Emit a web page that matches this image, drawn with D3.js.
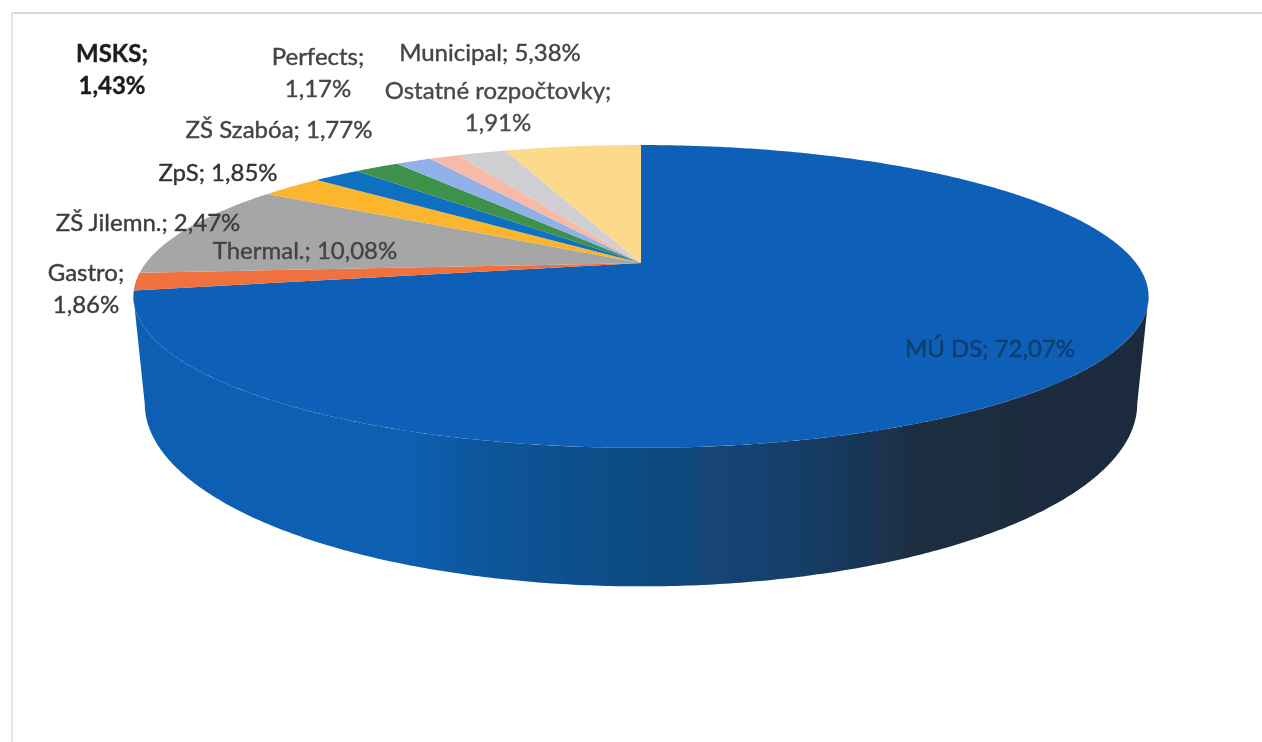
<!DOCTYPE html>
<html><head><meta charset="utf-8">
<style>html,body{margin:0;padding:0;background:#fff;overflow:hidden}svg{display:block}text{font-family:Lato,"Open Sans",sans-serif}</style>
<script src="https://cdn.jsdelivr.net/npm/d3@7"></script></head>
<body><svg id="c" width="1262" height="742"></svg>
<script>
const categories = ["MÚ DS","Gastro","Thermal.","ZŠ Jilemn.","ZpS","ZŠ Szabóa","MSKS","Perfects","Ostatné rozpočtovky","Municipal"];
const values = [72.07,1.86,10.08,2.47,1.85,1.77,1.43,1.17,1.91,5.38];
const colors = ["#0b5eb7","#f0713c","#a6a6a6","#fbb62f","#0f6fc0","#3e9149","#8fb1e8","#f7baa6","#cfcfd2","#fdd98c"];
// label layout, same order as categories: centre x, first baseline y, wrapped?
const labelX = [990,86,305,148,218,279,112,318,498,490];
const labelY = [357,281,259,231,181,138,62,65,99,61];
const labelWrap = [false,true,false,false,false,false,true,true,true,false];
const labelFill = ["#123c6c","#3c3c3c","#444","#3c3c3c","#333","#444","#1f1f1f","#444","#4a4a4a","#444"];

const svg = d3.select("#c");
const defs = svg.append("defs");
const blur = defs.append("filter").attr("id","scan").attr("x","-5%").attr("y","-5%").attr("width","110%").attr("height","110%");
blur.append("feGaussianBlur").attr("stdDeviation",0.6);
const wallGrad = defs.append("linearGradient").attr("id","wall").attr("gradientUnits","userSpaceOnUse")
  .attr("x1",140).attr("x2",1140).attr("y1",0).attr("y2",0);
[[0,"#0b5fb3"],[0.26,"#0b5fb2"],[0.36,"#0d5598"],[0.51,"#104a80"],[0.66,"#153e68"],[0.74,"#1a3350"],[0.78,"#1c2d40"],[1,"#1d2c3c"]]
  .forEach(([o,c])=>wallGrad.append("stop").attr("offset",o).attr("stop-color",c));

// Perspective projection of a tilted disc
const cx = 641, k = 0.221;
const topDisc = {cy:263, a:495, b:144};
const baseDisc = {cy:363, a:484, b:174};
function project(theta, disc){
  const X = Math.sin(theta), Y = Math.cos(theta), w = 1 + k*Y;
  return [cx + disc.a*X/w, disc.cy - disc.b*Y/w];
}
const line = d3.line();
const pie = d3.pie().sort(null).value(d=>d)(values);
const step = Math.PI/360;
function rimRange(t0,t1){ return d3.range(t0,t1,step).concat([t1]); }

const g = svg.append("g").attr("filter","url(#scan)");
// scan frame
g.append("line").attr("x1",12).attr("y1",13).attr("x2",1262).attr("y2",13).attr("stroke","#d8d8d8").attr("stroke-width",2);
g.append("line").attr("x1",12).attr("y1",13).attr("x2",12).attr("y2",742).attr("stroke","#dcdcdc").attr("stroke-width",1.5);

// side wall (visible front part)
const eL = Math.PI*2 - Math.acos(-k), eR = Math.acos(-k);
const rim = rimRange(eR,eL);
const wallPts = rim.map(t=>project(t,topDisc)).concat(rim.slice().reverse().map(t=>project(t,baseDisc)));
g.append("path").attr("d",line(wallPts)+"Z").attr("fill","url(#wall)");

// top face slices
g.selectAll("path.slice").data(pie).join("path").attr("class","slice")
  .attr("d",d=>line([[cx,topDisc.cy]].concat(rimRange(d.startAngle,d.endAngle).map(t=>project(t,topDisc))))+"Z")
  .attr("fill",(d,i)=>colors[i]);

// labels
const fmt = v => d3.format(".2f")(v).replace(".",",")+"%";
const lab = svg.append("g").attr("filter","url(#scan)").attr("text-anchor","middle").attr("font-size",24);
categories.forEach((c,i)=>{
  const t = lab.append("text").attr("x",labelX[i]).attr("y",labelY[i]).attr("fill",labelFill[i])
    .attr("stroke",labelFill[i]).attr("stroke-width",0.4)
    .attr("font-weight",(c==="MSKS")?700:400);
  if(labelWrap[i]){
    t.append("tspan").attr("x",labelX[i]).text(c+";");
    t.append("tspan").attr("x",labelX[i]).attr("dy",32).text(fmt(values[i]));
  } else t.text(c+"; "+fmt(values[i]));
});
</script></body></html>
